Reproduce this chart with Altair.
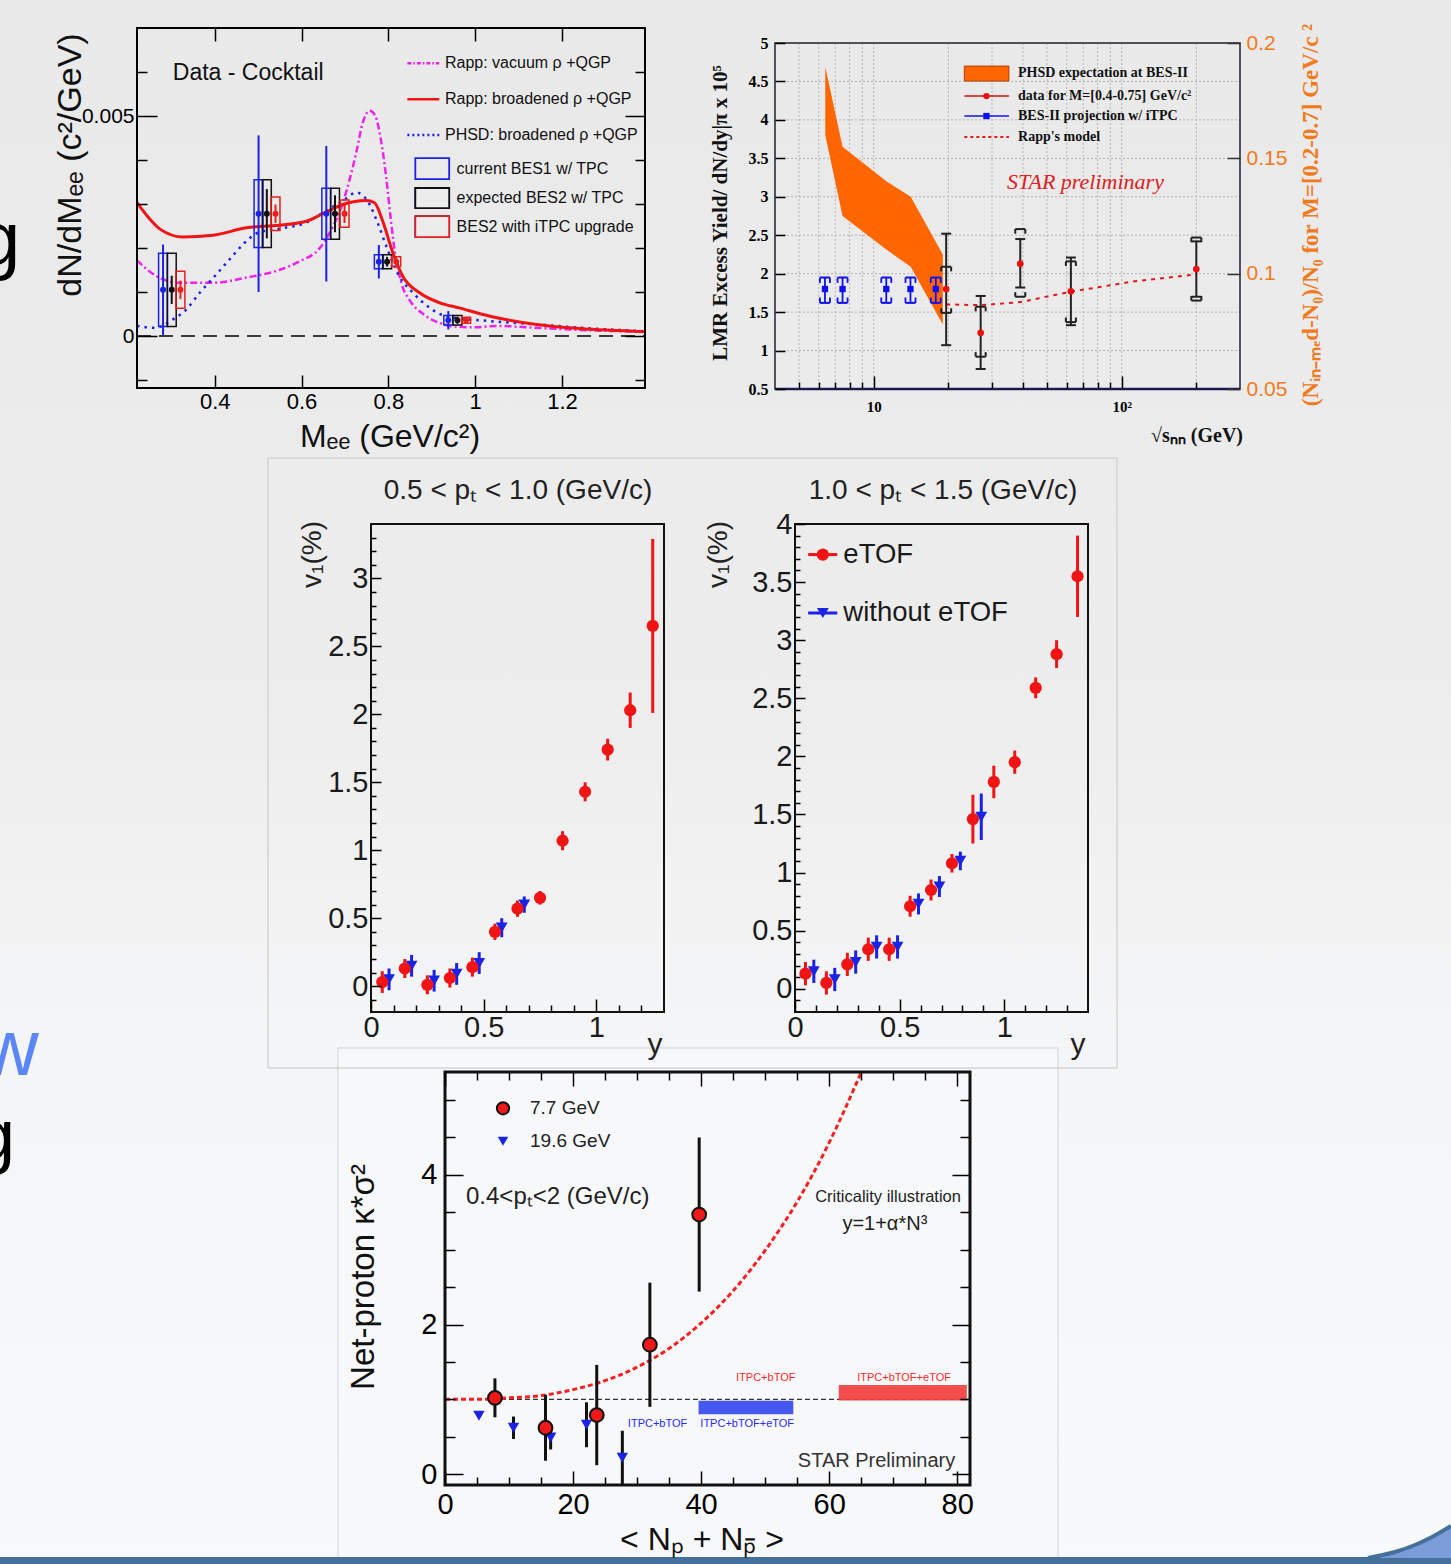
import altair as alt
import pandas as pd

W, H = 1451, 1564
SANS = "Liberation Sans, Arial, Helvetica, sans-serif"
NARROW = "Liberation Sans Narrow, Liberation Sans, Arial, sans-serif"
SERIF = "Liberation Serif, Times New Roman, serif"

# ---------------- Panel A : Data - Cocktail ----------------
A_vac_m = [0.221, 0.266, 0.32, 0.396, 0.473, 0.542, 0.596, 0.642, 0.665, 0.695, 0.726, 0.741, 0.757, 0.770,
           0.782, 0.795, 0.805, 0.815, 0.830, 0.850, 0.880, 0.910, 0.950, 1.00, 1.05, 1.137, 1.24, 1.391]
A_vac_y = [0.00172, 0.00136, 0.00121, 0.00121, 0.00133, 0.00148, 0.00170, 0.00200, 0.00235, 0.00303, 0.00417,
           0.00485, 0.00512, 0.00500, 0.00450, 0.00360, 0.00270, 0.00190, 0.00120, 0.00080, 0.00050, 0.00033,
           0.00022, 0.00020, 0.00023, 0.00019, 0.00014, 0.00010]
A_brd_m = [0.221, 0.274, 0.327, 0.396, 0.473, 0.549, 0.611, 0.649, 0.695, 0.749, 0.768, 0.787, 0.810, 0.833,
           0.871, 0.917, 0.963, 1.034, 1.137, 1.24, 1.391]
A_brd_y = [0.00303, 0.00243, 0.00225, 0.00229, 0.00246, 0.00252, 0.00261, 0.00278, 0.00299, 0.00308, 0.00303,
           0.00261, 0.00190, 0.00136, 0.00099, 0.00076, 0.00064, 0.00045, 0.00027, 0.00017, 0.00010]
A_phsd_m = [0.221, 0.262, 0.304, 0.335, 0.366, 0.40, 0.434, 0.469, 0.50, 0.549, 0.611, 0.649, 0.695, 0.726,
            0.752, 0.775, 0.798, 0.825, 0.856, 0.894, 0.933, 1.034, 1.137, 1.24, 1.391]
A_phsd_y = [0.00023, 0.00019, 0.00038, 0.00061, 0.00099, 0.00136, 0.00174, 0.00212, 0.00235, 0.00244, 0.00258,
            0.00280, 0.00307, 0.00326, 0.00307, 0.00258, 0.00197, 0.00136, 0.00099, 0.00065, 0.00045, 0.00034,
            0.00027, 0.00019, 0.00011]
A_bes1_m = [0.281, 0.501, 0.657, 0.778, 0.938]
A_bes2_m = [0.301, 0.520, 0.677, 0.797, 0.959]
A_itpc_m = [0.321, 0.540, 0.699, 0.818, 0.979]
A_val = [0.00105, 0.00278, 0.00278, 0.00169, 0.00036]
A_bes1_stat = [0.00103, 0.00178, 0.00154, 0.00038, 0.00021]
A_bes2_stat = [0.00032, 0.00056, 0.00042, 0.00011, 0.00008]
A_itpc_stat = [0.00021, 0.00021, 0.00021, 0.00008, 0.00005]
A_tpc_sys = [0.00083, 0.00077, 0.00058, 0.00016, 0.00011]
A_itpc_sys = [0.00042, 0.00038, 0.00031, 0.00011, 0.00007]
A_line_names = ["Rapp: vacuum \u03c1 +QGP", "Rapp: broadened \u03c1 +QGP", "PHSD: broadened \u03c1 +QGP"]
A_box_names = ["current BES1 w/ TPC", "expected BES2 w/ TPC", "BES2 with iTPC upgrade"]
A_y_ticks = [0, 0.005]
A_y_minor = [-0.001, 0.001, 0.002, 0.003, 0.004, 0.006]
A_x_ticks = [0.4, 0.6, 0.8, 1.0, 1.2]

# ---------------- Panel B : LMR excess yield ----------------
B_band_e = [6.38, 7.49, 11.28, 14.1, 19.0]
B_band_hi = [4.69, 3.65, 3.20, 3.00, 2.25]
B_band_lo = [3.80, 2.75, 2.31, 2.09, 1.34]
B_proj_e = [6.36, 7.49, 11.24, 14.07, 17.8]
B_proj_y = [1.80, 1.80, 1.80, 1.80, 1.80]
B_proj_lo = [1.62, 1.62, 1.62, 1.62, 1.62]
B_proj_hi = [1.95, 1.95, 1.95, 1.95, 1.95]
B_e = [19.6, 27.0, 39.0, 62.4, 200.0]
B_y = [1.80, 1.23, 2.13, 1.77, 2.06]
B_stat_lo = [1.07, 0.76, 1.82, 1.33, 1.70]
B_stat_hi = [2.52, 1.71, 2.45, 2.21, 2.42]
B_sys_lo = [1.49, 0.92, 1.70, 1.37, 1.65]
B_sys_hi = [2.09, 1.57, 2.58, 2.16, 2.47]
B_rapp_e = [19.6, 27.0, 39.0, 46.4, 62.4, 109.6, 201.0]
B_rapp_y = [1.60, 1.59, 1.63, 1.68, 1.765, 1.895, 1.99]
B_grid_e = [5, 6, 7, 8, 9, 10, 20, 30, 40, 50, 60, 70, 80, 90, 100, 200]
B_grid_y = [1.0, 1.5, 2.0, 2.5, 3.0, 3.5, 4.0, 4.5]
B_y_ticks = [0.5, 1.0, 1.5, 2.0, 2.5, 3.0, 3.5, 4.0, 4.5, 5.0]
B_y2_ticks = [0.05, 0.1, 0.15, 0.2]
B_x_major = [10, 100]
B_x_minor = [5, 6, 7, 8, 9, 20, 30, 40, 50, 60, 70, 80, 90, 200]
B_leg_names = ["PHSD expectation at BES-II", "data for M=[0.4-0.75] GeV/c\u00b2",
               "BES-II projection w/ iTPC", "Rapp's model"]

# ---------------- Panel C : v1 ----------------
CL_red_y = [0.05, 0.15, 0.25, 0.35, 0.45, 0.55, 0.65, 0.75, 0.85, 0.95, 1.05, 1.15, 1.25]
CL_red_v = [0.03, 0.13, 0.01, 0.06, 0.14, 0.40, 0.57, 0.65, 1.07, 1.43, 1.74, 2.03, 2.65]
CL_red_e = [0.08, 0.07, 0.07, 0.07, 0.07, 0.06, 0.06, 0.05, 0.07, 0.07, 0.08, 0.13, 0.64]
CL_blue_y = [0.08, 0.18, 0.28, 0.38, 0.48, 0.58, 0.68]
CL_blue_v = [0.05, 0.15, 0.04, 0.09, 0.17, 0.43, 0.60]
CL_blue_e = [0.08, 0.08, 0.08, 0.08, 0.08, 0.07, 0.06]
CR_red_y = [0.05, 0.15, 0.25, 0.35, 0.45, 0.55, 0.65, 0.75, 0.85, 0.95, 1.05, 1.15, 1.25, 1.35]
CR_red_v = [0.13, 0.05, 0.21, 0.34, 0.34, 0.71, 0.85, 1.08, 1.46, 1.78, 1.95, 2.59, 2.88, 3.55]
CR_red_e = [0.10, 0.10, 0.10, 0.10, 0.10, 0.09, 0.09, 0.08, 0.21, 0.14, 0.10, 0.09, 0.12, 0.35]
CR_blue_y = [0.09, 0.19, 0.29, 0.39, 0.49, 0.59, 0.69, 0.79, 0.89]
CR_blue_v = [0.15, 0.08, 0.23, 0.36, 0.36, 0.73, 0.88, 1.10, 1.48]
CR_blue_e = [0.10, 0.10, 0.10, 0.10, 0.10, 0.09, 0.09, 0.08, 0.20]
CL_y_major = [0, 0.5, 1, 1.5, 2, 2.5, 3]
CL_y_minor = [-0.1, 0.1, 0.2, 0.3, 0.4, 0.6, 0.7, 0.8, 0.9, 1.1, 1.2, 1.3, 1.4, 1.6, 1.7, 1.8, 1.9,
              2.1, 2.2, 2.3, 2.4, 2.6, 2.7, 2.8, 2.9, 3.1, 3.2, 3.3]
CR_y_major = [0, 0.5, 1, 1.5, 2, 2.5, 3, 3.5, 4]
CR_y_minor = CL_y_minor + [3.4, 3.6, 3.7, 3.8, 3.9]
C_x_major = [0, 0.5, 1]
C_x_minor = [0.1, 0.2, 0.3, 0.4, 0.6, 0.7, 0.8, 0.9, 1.1, 1.2, 1.3]

# ---------------- Panel D : net-proton ----------------
D_red_n = [7.8, 15.7, 23.7, 32.0, 39.7]
D_red_k = [1.02, 0.62, 0.79, 1.73, 3.47]
D_red_e = [0.26, 0.44, 0.67, 0.83, 1.03]
D_blue_n = [5.3, 10.7, 16.5, 22.1, 27.7]
D_blue_k = [0.78, 0.62, 0.49, 0.66, 0.22]
D_blue_lo = [0.78, 0.47, 0.33, 0.36, -0.14]
D_blue_hi = [0.78, 0.77, 0.65, 0.96, 0.58]
D_crit_n = [0, 5, 10, 15, 20, 25, 30, 35, 40, 45, 50, 55, 60, 65]
D_crit_k = [1.00, 1.00, 1.02, 1.05, 1.13, 1.25, 1.43, 1.68, 2.02, 2.45, 2.99, 3.64, 4.43, 5.37]
D_band_b = [39.6, 54.4, 0.80, 0.98]
D_band_r = [61.5, 81.5, 0.985, 1.19]
D_y_major = [0, 2, 4]
D_y_minor = [0.5, 1, 1.5, 2.5, 3, 3.5, 4.5, 5]
D_x_major = [0, 20, 40, 60, 80]
D_x_minor = [5, 10, 15, 25, 30, 35, 45, 50, 55, 65, 70, 75]

RED, BLUE, MAG = "#f01414", "#1a22e6", "#ee22ee"


def S(dom, rng, typ="linear"):
    return alt.Scale(type=typ, domain=dom, range=rng, nice=False, zero=False)


AX = S([0.221, 1.391], [137, 645]); AY = S([-0.00118, 0.0070], [388, 28])
BX = S([4, 300], [775, 1240], "log"); BY = S([0.5, 5.0], [389, 43]); BY2 = S([0.05, 0.20], [389, 43])
CLX = S([0, 1.3], [371, 664]); CLY = S([-0.19, 3.4], [1012, 524])
CRX = S([0, 1.4], [795, 1088]); CRY = S([-0.2, 4.0], [1012, 524])
DX = S([0, 82], [445, 970]); DY = S([-0.145, 5.375], [1485, 1072])
PX = S([0, W], [0, W]); PY = S([0, H], [0, H])

L = []


def enc(ch, xs, ys, x="x", y="y", x2=None, y2=None, extra=None):
    e = dict(x=alt.X(f"{x}:Q", scale=xs, axis=None), y=alt.Y(f"{y}:Q", scale=ys, axis=None))
    if x2:
        e["x2"] = alt.X2(x2)
    if y2:
        e["y2"] = alt.Y2(y2)
    if extra:
        e.update(extra)
    return ch.encode(**e)


def line(xs, ys, xv, yv, **mk):
    d = pd.DataFrame({"x": xv, "y": yv, "o": list(range(len(xv)))})
    L.append(enc(alt.Chart(d).mark_line(**mk), xs, ys, extra={"order": alt.Order("o:Q")}))


def vrule(xs, ys, xv, lo, hi, **mk):
    d = pd.DataFrame({"x": xv, "lo": lo, "hi": hi})
    L.append(enc(alt.Chart(d).mark_rule(**mk), xs, ys, y="lo", y2="hi"))


def hrule(xs, ys, x1, x2, yv, **mk):
    d = pd.DataFrame({"a": x1, "b": x2, "y": yv})
    L.append(enc(alt.Chart(d).mark_rule(**mk), xs, ys, x="a", x2="b"))


def caps(xs, ys, xv, yv, size, color, thick):
    d = pd.DataFrame({"x": xv, "y": yv})
    L.append(enc(alt.Chart(d).mark_tick(orient="horizontal", size=size, thickness=thick,
                                        color=color, opacity=1), xs, ys))


def points(xs, ys, xv, yv, **mk):
    d = pd.DataFrame({"x": xv, "y": yv})
    mk.setdefault("opacity", 1)
    mk.setdefault("filled", True)
    L.append(enc(alt.Chart(d).mark_point(**mk), xs, ys))


def rects(xs, ys, x1, x2, y1, y2, **mk):
    d = pd.DataFrame({"a": x1, "b": x2, "c": y1, "d": y2})
    L.append(enc(alt.Chart(d).mark_rect(**mk), xs, ys, x="a", x2="b", y="c", y2="d"))


def texts(xs, ys, xv, yv, tv, **mk):
    d = pd.DataFrame({"x": xv, "y": yv, "t": tv})
    L.append(enc(alt.Chart(d).mark_text(**mk), xs, ys, extra={"text": alt.Text("t:N")}))


def area(xs, ys, xv, hi, lo, **mk):
    d = pd.DataFrame({"x": xv, "hi": hi, "lo": lo})
    L.append(enc(alt.Chart(d).mark_area(**mk), xs, ys, y="hi", y2="lo"))


def axis(sc, ch, orient, edge, tl, values, labels=False, fs=20, font=SANS, lcolor="black",
         tcolor="black", tw=1.5, pad=3, fweight="normal", lexpr=None, fmt="~g"):
    if orient == "bottom":
        off = edge - tl - H
    elif orient in ("top", "left"):
        off = -(edge + tl)
    else:
        off = edge - tl - W
    kw = dict(orient=orient, offset=off, tickSize=tl, values=values, domain=False, grid=False,
              ticks=True, tickColor=tcolor, tickWidth=tw, labels=labels, title=None, zindex=2)
    if labels:
        kw.update(labelFlush=False, labelOverlap=False, labelPadding=pad, labelFont=font,
                  labelFontSize=fs, labelColor=lcolor, labelFontWeight=fweight, format=fmt)
        if lexpr:
            kw["labelExpr"] = lexpr
    d = pd.DataFrame({"v": [values[0]]})
    c = alt.Chart(d).mark_point(opacity=0, size=1)
    if ch == "x":
        c = c.encode(x=alt.X("v:Q", scale=sc, axis=alt.Axis(**kw)))
    else:
        c = c.encode(y=alt.Y("v:Q", scale=sc, axis=alt.Axis(**kw)))
    L.append(c)


def frame(xs, ys, dom_x, dom_y, color="black", sw=2):
    rects(xs, ys, [dom_x[0]], [dom_x[1]], [dom_y[0]], [dom_y[1]], fillOpacity=0, stroke=color, strokeWidth=sw)


# ---------------- slide background / decorations ----------------
grad = alt.LinearGradient(gradient="linear", x1=0, x2=0, y1=0, y2=1,
                          stops=[alt.GradientStop(color="#e9e9ea", offset=0),
                                 alt.GradientStop(color="#ededee", offset=0.45),
                                 alt.GradientStop(color="#f4f5f6", offset=0.66),
                                 alt.GradientStop(color="#f8f9fb", offset=1)])
rects(PX, PY, [0], [W], [0], [H], fill=grad)
rects(PX, PY, [338], [1058], [1048], [1570], fill="#f7f8fa", stroke="#d3d3d3", strokeWidth=1)
rects(PX, PY, [268], [1117], [458], [1068], fillOpacity=0, stroke="#c6c6c6", strokeWidth=1)
texts(PX, PY, [-22], [265], ["g"], font=SANS, fontSize=76, align="left", baseline="alphabetic", color="black")
texts(PX, PY, [-25], [1160], ["g"], font=SANS, fontSize=72, align="left", baseline="alphabetic", color="black")
texts(PX, PY, [-19], [1075], ["w"], font=SANS, fontSize=80, align="left", baseline="alphabetic", color="#5b86f5")
rects(PX, PY, [0], [W], [1557], [1570], fill="#44709b")
area(PX, PY, [1368, 1395, 1415, 1432, 1451], [1558, 1552, 1545, 1537, 1526], [1558, 1558, 1558, 1558, 1558],
     fill="#7c9cd9")
line(PX, PY, [1368, 1395, 1415, 1432, 1451], [1558, 1552, 1545, 1537, 1526], color="#44709b", strokeWidth=4,
     interpolate="monotone")

# ================= Panel A =================
hrule(AX, AY, [0.221], [1.391], [0], color="black", strokeWidth=1.5, strokeDash=[14, 8])
line(AX, AY, A_vac_m, A_vac_y, color=MAG, strokeWidth=2.5, strokeDash=[7, 3, 2, 3], interpolate="monotone")
line(AX, AY, A_phsd_m, A_phsd_y, color=BLUE, strokeWidth=2.5, strokeDash=[2.5, 5], interpolate="monotone")
line(AX, AY, A_brd_m, A_brd_y, color=RED, strokeWidth=3, interpolate="monotone")
HW = 0.0103
for xm, st, sy, col in [(A_bes1_m, A_bes1_stat, A_tpc_sys, "#1b22e0"),
                        (A_bes2_m, A_bes2_stat, A_tpc_sys, "#111111"),
                        (A_itpc_m, A_itpc_stat, A_itpc_sys, "#e8201c")]:
    rects(AX, AY, [m - HW for m in xm], [m + HW for m in xm],
          [v - s for v, s in zip(A_val, sy)], [v + s for v, s in zip(A_val, sy)],
          fillOpacity=0, stroke=col, strokeWidth=1.5)
    vrule(AX, AY, xm, [v - s for v, s in zip(A_val, st)], [v + s for v, s in zip(A_val, st)],
          color=col, strokeWidth=2)
    points(AX, AY, xm, A_val, shape="circle", size=36, color=col)
frame(AX, AY, [0.221, 1.391], [-0.00118, 0.0070], sw=2)
axis(AY, "y", "left", 137, 20, A_y_ticks, labels=True, fs=21, pad=3)
axis(AY, "y", "left", 137, 10, A_y_minor)
axis(AY, "y", "right", 645, 20, A_y_ticks)
axis(AY, "y", "right", 645, 10, A_y_minor)
axis(AX, "x", "bottom", 388, 13, A_x_ticks, labels=True, fs=22, pad=3)
axis(AX, "x", "top", 28, 13, A_x_ticks)
# legend (panel A coordinates)
line(AX, AY, [0.8437, 0.9172], [0.0062, 0.0062], color=MAG, strokeWidth=2.5, strokeDash=[4, 2, 1.5, 2])
line(AX, AY, [0.8437, 0.9172], [0.00538, 0.00538], color=RED, strokeWidth=2.5)
line(AX, AY, [0.8437, 0.9172], [0.00457, 0.00457], color=BLUE, strokeWidth=2.5, strokeDash=[2, 3])
texts(AX, AY, [0.9303] * 3, [0.0062, 0.00538, 0.00457], A_line_names, font=SANS, fontSize=16,
      align="left", baseline="middle", color="#111")
rects(AX, AY, [0.862] * 3, [0.940] * 3, [0.003568, 0.002909, 0.00225], [0.004045, 0.003364, 0.002727],
      fillOpacity=0, stroke="#1b22e0", strokeWidth=1.8)
rects(AX, AY, [0.862], [0.940], [0.002909], [0.003364], fill="#ececec", stroke="#111111", strokeWidth=1.8)
rects(AX, AY, [0.862], [0.940], [0.00225], [0.002727], fill="#ececec", stroke="#e02020", strokeWidth=1.8)
texts(AX, AY, [0.957] * 3, [0.003807, 0.003136, 0.002489], A_box_names, font=SANS, fontSize=16,
      align="left", baseline="middle", color="#111")
texts(AX, AY, [0.3034], [0.005977], ["Data - Cocktail"], font=SANS, fontSize=23, align="left",
      baseline="middle", color="#111")
texts(PX, PY, [71], [165], ["dN/dM\u2091\u2091 (c\u00b2/GeV)"], font=SANS, fontSize=34, angle=270,
      align="center", baseline="middle", color="#111")
texts(PX, PY, [390], [437], ["M\u2091\u2091 (GeV/c\u00b2)"], font=SANS, fontSize=32, align="center",
      baseline="middle", color="#111")

# ================= Panel B =================
vrule(BX, BY, B_grid_e, [0.5] * len(B_grid_e), [5.0] * len(B_grid_e), color="#b4b4b4", strokeWidth=1,
      strokeDash=[2, 2])
hrule(BX, BY, [4] * len(B_grid_y), [300] * len(B_grid_y), B_grid_y, color="#b4b4b4", strokeWidth=1,
      strokeDash=[2, 2])
area(BX, BY, B_band_e, B_band_hi, B_band_lo, fill="#ff6600", opacity=1)
line(BX, BY, B_rapp_e, B_rapp_y, color="#e01818", strokeWidth=2, strokeDash=[4, 5])
# BES-II projection (blue)
vrule(BX, BY, B_proj_e, B_proj_lo, B_proj_hi, color="#1010ee", strokeWidth=1.8)
caps(BX, BY, B_proj_e, B_proj_hi, 10, "#1010ee", 2)
caps(BX, BY, B_proj_e, B_proj_lo, 10, "#1010ee", 2)
for xo in (-5, 5):
    vrule(BX, BY, B_proj_e, [h - 0.07 for h in B_proj_hi], B_proj_hi, color="#1010ee", strokeWidth=1.8, xOffset=xo)
    vrule(BX, BY, B_proj_e, B_proj_lo, [v + 0.07 for v in B_proj_lo], color="#1010ee", strokeWidth=1.8, xOffset=xo)
points(BX, BY, B_proj_e, B_proj_y, shape="square", size=40, color="#1010ee")
# data (red with black errors)
vrule(BX, BY, B_e, B_stat_lo, B_stat_hi, color="#222", strokeWidth=2)
caps(BX, BY, B_e, B_stat_hi, 10, "#222", 2)
caps(BX, BY, B_e, B_stat_lo, 10, "#222", 2)
caps(BX, BY, B_e, B_sys_hi, 10, "#222", 2)
caps(BX, BY, B_e, B_sys_lo, 10, "#222", 2)
for xo in (-5, 5):
    vrule(BX, BY, B_e, [h - 0.06 for h in B_sys_hi], B_sys_hi, color="#222", strokeWidth=2, xOffset=xo)
    vrule(BX, BY, B_e, B_sys_lo, [v + 0.06 for v in B_sys_lo], color="#222", strokeWidth=2, xOffset=xo)
points(BX, BY, B_e, B_y, shape="circle", size=45, color="#e81010")
frame(BX, BY, [4, 300], [0.5, 5.0], color="#222233", sw=1.5)
hrule(BX, BY, [4], [300], [0.5], color="#1a1a50", strokeWidth=2.5)
axis(BY, "y", "left", 775, 10, B_y_ticks, labels=True, fs=16, font=SERIF, fweight="bold", pad=7)
axis(BX, "x", "bottom", 389, 13, B_x_major, labels=True, fs=15, font=SERIF, fweight="bold", pad=10,
     lexpr="datum.value == 10 ? '10' : '10\u00b2'")
axis(BX, "x", "bottom", 389, 7, B_x_minor)
axis(BY2, "y", "right", 1240, 13, B_y2_ticks, labels=True, fs=21, font=NARROW, lcolor="#f07a1c", pad=6,
     tcolor="#333")
# legend (panel B coordinates)
rects(BX, BY, [23.2], [35.1], [4.505], [4.70], fill="#ff6600", stroke="#b04000", strokeWidth=1)
line(BX, BY, [23.2, 35.1], [4.31, 4.31], color="#d01010", strokeWidth=1.5)
points(BX, BY, [28.5], [4.31], shape="circle", size=40, color="#e81010")
line(BX, BY, [23.2, 35.1], [4.05, 4.05], color="#1010ee", strokeWidth=1.5)
points(BX, BY, [28.5], [4.05], shape="square", size=40, color="#1010ee")
line(BX, BY, [23.2, 35.1], [3.777, 3.777], color="#e01818", strokeWidth=2, strokeDash=[3, 3])
texts(BX, BY, [38.2] * 4, [4.605, 4.31, 4.05, 3.777], B_leg_names, font=SERIF, fontSize=14,
      fontWeight="bold", align="left", baseline="middle", color="#111")
texts(BX, BY, [71.4], [3.196], ["STAR preliminary"], font=SERIF, fontSize=22, fontStyle="italic",
      align="center", baseline="middle", color="#e02020")
texts(PX, PY, [721], [213], ["LMR Excess Yield/ dN/dy|\u03c0 x 10\u2075"], font=SERIF, fontSize=21,
      fontWeight="bold", angle=270, align="center", baseline="middle", color="#111")
texts(PX, PY, [1311], [215], ["(N\u1d62\u2099\u208b\u2098\u2091d-N\u2080)/N\u2080 for M=[0.2-0.7] GeV/c \u00b2"],
      font=SERIF, fontSize=23, fontWeight="bold", angle=270, align="center", baseline="middle",
      color="#f07a1c")
texts(PX, PY, [1243], [436], ["\u221as\u2099\u2099 (GeV)"], font=SERIF, fontSize=20, fontWeight="bold",
      align="right", baseline="middle", color="#111")

# ================= Panel C =================
for XS, YS, ry, rv, re, by, bv, be, ymaj, ymin, dom_x, dom_y in [
        (CLX, CLY, CL_red_y, CL_red_v, CL_red_e, CL_blue_y, CL_blue_v, CL_blue_e, CL_y_major, CL_y_minor,
         [0, 1.3], [-0.19, 3.4]),
        (CRX, CRY, CR_red_y, CR_red_v, CR_red_e, CR_blue_y, CR_blue_v, CR_blue_e, CR_y_major, CR_y_minor,
         [0, 1.4], [-0.2, 4.0])]:
    vrule(XS, YS, by, [v - e for v, e in zip(bv, be)], [v + e for v, e in zip(bv, be)], color=BLUE, strokeWidth=3)
    points(XS, YS, by, bv, shape="triangle-down", size=140, color=BLUE)
    vrule(XS, YS, ry, [v - e for v, e in zip(rv, re)], [v + e for v, e in zip(rv, re)], color=RED, strokeWidth=3)
    points(XS, YS, ry, rv, shape="circle", size=150, color=RED)
    frame(XS, YS, dom_x, dom_y, color="#111", sw=2)
    edge_l = 371 if XS is CLX else 795
    axis(YS, "y", "left", edge_l, 10, ymaj, labels=True, fs=29, pad=3, lcolor="#1a1a1a")
    axis(YS, "y", "left", edge_l, 5, ymin)
    axis(XS, "x", "bottom", 1012, 13, C_x_major, labels=True, fs=29, pad=1, lcolor="#1a1a1a")
    axis(XS, "x", "bottom", 1012, 7, [m for m in C_x_minor if m < dom_x[1]])

# legend in right panel
line(CRX, CRY, [0.063, 0.202], [3.737, 3.737], color=RED, strokeWidth=3)
points(CRX, CRY, [0.133], [3.737], shape="circle", size=150, color=RED)
line(CRX, CRY, [0.063, 0.202], [3.234, 3.234], color=BLUE, strokeWidth=3)
points(CRX, CRY, [0.133], [3.234], shape="triangle-down", size=140, color=BLUE)
texts(CRX, CRY, [0.231, 0.231], [3.737, 3.234], ["eTOF", "without eTOF"], font=SANS, fontSize=27.5,
      align="left", baseline="middle", color="#1a1a1a")
texts(PX, PY, [518, 943], [491, 491], ["0.5 < p\u209c < 1.0 (GeV/c)", "1.0 < p\u209c < 1.5 (GeV/c)"],
      font=SANS, fontSize=28, align="center", baseline="middle", color="#222")
texts(PX, PY, [313, 719], [521, 521], ["v\u2081(%)", "v\u2081(%)"], font=SANS, fontSize=28, angle=270,
      align="right", baseline="middle", color="#222")
texts(PX, PY, [655, 1078], [1045, 1045], ["y", "y"], font=SANS, fontSize=30, align="center",
      baseline="middle", color="#222")

# ================= Panel D =================
hrule(DX, DY, [0], [82], [1.0], color="#333", strokeWidth=1.2, strokeDash=[5, 3])
rects(DX, DY, [D_band_b[0]], [D_band_b[1]], [D_band_b[2]], [D_band_b[3]], fill="#3346f0", opacity=0.9)
rects(DX, DY, [D_band_r[0]], [D_band_r[1]], [D_band_r[2]], [D_band_r[3]], fill="#f23a3a", opacity=0.9)
line(DX, DY, D_crit_n, D_crit_k, color="#f52020", strokeWidth=3, strokeDash=[5, 3], interpolate="monotone")
vrule(DX, DY, D_blue_n, D_blue_lo, D_blue_hi, color="#111", strokeWidth=3)
points(DX, DY, D_blue_n, D_blue_k, shape="triangle-down", size=130, color="#1a22e6")
vrule(DX, DY, D_red_n, [v - e for v, e in zip(D_red_k, D_red_e)], [v + e for v, e in zip(D_red_k, D_red_e)],
      color="#111", strokeWidth=3)
points(DX, DY, D_red_n, D_red_k, shape="circle", size=190, fill="#f01818", stroke="#111", strokeWidth=2)
frame(DX, DY, [0, 82], [-0.145, 5.375], color="#111", sw=3)
axis(DY, "y", "left", 445, 18, D_y_major, labels=True, fs=29, pad=8, fmt="d")
axis(DY, "y", "left", 445, 10, D_y_minor)
axis(DY, "y", "right", 970, 18, D_y_major)
axis(DY, "y", "right", 970, 10, D_y_minor)
axis(DX, "x", "bottom", 1485, 14, D_x_major, labels=True, fs=29, pad=5, fmt="d")
axis(DX, "x", "bottom", 1485, 8, D_x_minor)
axis(DX, "x", "top", 1072, 14, D_x_major)
axis(DX, "x", "top", 1072, 8, D_x_minor)
points(DX, DY, [9.06], [4.89], shape="circle", size=150, fill="#f01818", stroke="#111", strokeWidth=2)
points(DX, DY, [9.06], [4.45], shape="triangle-down", size=110, color="#1a22e6")
texts(DX, DY, [13.28, 13.28], [4.89, 4.45], ["7.7 GeV", "19.6 GeV"], font=SANS, fontSize=19, align="left",
      baseline="middle", color="#222")
texts(DX, DY, [3.28], [3.71], ["0.4<p\u209c<2 (GeV/c)"], font=SANS, fontSize=24, align="left",
      baseline="middle", color="#222")
texts(DX, DY, [69.2], [3.70], ["Criticality illustration"], font=SANS, fontSize=16.5, align="center",
      baseline="middle", color="#222")
texts(DX, DY, [68.7], [3.34], ["y=1+\u03b1*N\u00b3"], font=SANS, fontSize=20, align="center",
      baseline="middle", color="#222")
texts(DX, DY, [79.7], [0.18], ["STAR Preliminary"], font=SANS, fontSize=20, align="right",
      baseline="middle", color="#333")
texts(DX, DY, [50.1, 71.7], [1.29, 1.29], ["ITPC+bTOF", "ITPC+bTOF+eTOF"], font=SANS, fontSize=11,
      align="center", baseline="middle", color="#ff2a2a")
texts(DX, DY, [33.2, 47.2], [0.665, 0.665], ["ITPC+bTOF", "ITPC+bTOF+eTOF"], font=SANS, fontSize=11,
      align="center", baseline="middle", color="#2a2aff")
texts(PX, PY, [364], [1277], ["Net-proton  \u03ba*\u03c3\u00b2"], font=SANS, fontSize=33, angle=270,
      align="center", baseline="middle", color="#111")
texts(PX, PY, [702], [1540], ["< N\u209a + N\u209a\u0304 >"], font=SANS, fontSize=32, align="center",
      baseline="middle", color="#111")

chart = alt.layer(*L).resolve_scale(x="independent", y="independent").properties(
    width=W, height=H, padding=0, autosize=alt.AutoSizeParams(type="none"), background="#eeeeef"
).configure_view(strokeWidth=0)

chart.save("out.html", embed_options={"renderer": "svg", "actions": False})
